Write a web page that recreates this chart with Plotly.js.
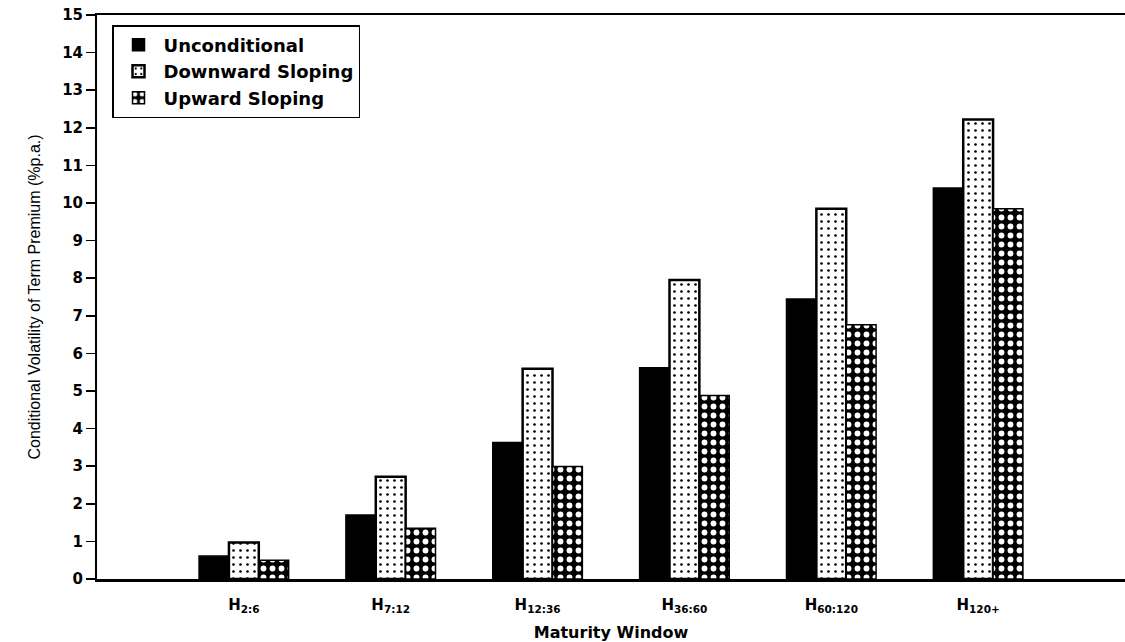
<!DOCTYPE html>
<html>
<head>
<meta charset="utf-8">
<script src="https://cdn.plot.ly/plotly-3.0.1.min.js"></script>
<style>html,body{margin:0;padding:0;background:#fff;}#chart{width:1125px;height:642px;}</style>
</head>
<body>
<div id="chart"></div>
<script>
const categories = ["H<sub>2:6</sub>", "H<sub>7:12</sub>", "H<sub>12:36</sub>", "H<sub>36:60</sub>", "H<sub>60:120</sub>", "H<sub>120+</sub>"];
const unconditional = [0.61, 1.70, 3.63, 5.62, 7.45, 10.40];
const downwardSloping = [0.97, 2.72, 5.59, 7.95, 9.85, 12.22];
const upwardSloping = [0.50, 1.35, 2.99, 4.88, 6.76, 9.85];
const seriesNames = ["Unconditional", "Downward Sloping", "Upward Sloping"];
const yTicks = [0,1,2,3,4,5,6,7,8,9,10,11,12,13,14,15];

const xIdx = categories.map((c, i) => i);
const boldFont = {family: "DejaVu Sans", size: 15, color: "#000", weight: "bold"};

const traces = [
  {type: "bar", name: seriesNames[0], x: xIdx, y: unconditional,
   marker: {color: "#000", line: {color: "#000", width: 1.5}}},
  {type: "bar", name: seriesNames[1], x: xIdx, y: downwardSloping,
   marker: {color: "#fff", line: {color: "#000", width: 2.5},
            pattern: {shape: ".", fgcolor: "#000", bgcolor: "#fff", fgopacity: 1, size: 7, solidity: 0.12, fillmode: "overlay"}}},
  {type: "bar", name: seriesNames[2], x: xIdx, y: upwardSloping,
   marker: {color: "#000", line: {color: "#000", width: 1.5},
            pattern: {shape: ".", fgcolor: "#fff", bgcolor: "#000", fgopacity: 1, size: 9, solidity: 0.33, fillmode: "overlay"}}}
];

const layout = {
  width: 1125, height: 642,
  margin: {l: 97, r: 0, t: 15, b: 63},
  paper_bgcolor: "#fff", plot_bgcolor: "#fff",
  barmode: "group", bargap: 0.39, bargroupgap: 0,
  font: {family: "DejaVu Sans", color: "#000"},
  xaxis: {
    range: [-1, 6], tickmode: "array", tickvals: xIdx, ticktext: categories,
    showgrid: false, zeroline: false, showline: true, linecolor: "#000", linewidth: 2.5,
    mirror: true, ticks: "", ticklabelstandoff: 10,
    tickfont: {family: "DejaVu Sans", size: 15, color: "#000", weight: "bold"},
    title: {text: "Maturity Window", font: {family: "DejaVu Sans", size: 16, color: "#000", weight: "bold"}, standoff: 14}
  },
  yaxis: {
    range: [0, 15], tickmode: "array", tickvals: yTicks, ticktext: yTicks.map(String),
    showgrid: false, zeroline: false, showline: true, linecolor: "#000", linewidth: 2,
    ticks: "outside", ticklen: 9, tickwidth: 1.5, tickcolor: "#000",
    tickfont: boldFont,
    title: {text: "Conditional Volatility of Term Premium (%p.a.)", font: {family: "Liberation Sans Narrow, Liberation Sans, sans-serif", size: 16, color: "#000"}, standoff: 18}
  },
  yaxis2: {
    overlaying: "y", side: "right", range: [0, 15], tickmode: "array", tickvals: yTicks.slice(1),
    showticklabels: false, ticks: "inside", ticklen: 3, tickwidth: 2, tickcolor: "#000",
    showgrid: false, zeroline: false, showline: false
  },
  legend: {
    x: 0.0146, y: 0.982, xanchor: "left", yanchor: "top",
    bgcolor: "#fff", bordercolor: "#000", borderwidth: 1.5,
    font: {family: "DejaVu Sans", size: 18, color: "#000", weight: "bold"},
    itemwidth: 40,
    traceorder: "normal"
  },
  showlegend: true
};

Plotly.newPlot("chart", traces, layout, {displayModeBar: false, staticPlot: true});
</script>
</body>
</html>
